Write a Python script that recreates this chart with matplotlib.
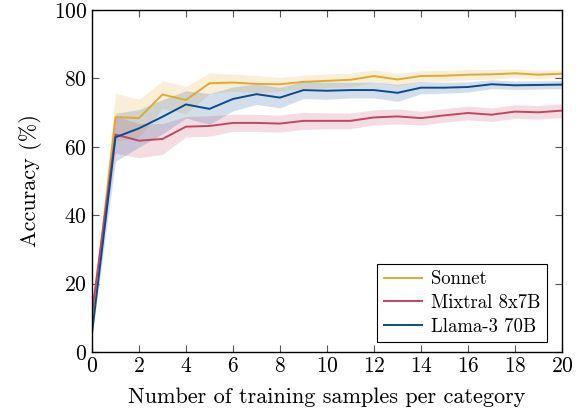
import numpy as np
import matplotlib
matplotlib.use("Agg")
import matplotlib.pyplot as plt

plt.rcParams['font.family'] = 'serif'
plt.rcParams['font.serif'] = ['cmr10', 'DejaVu Serif']
plt.rcParams['mathtext.fontset'] = 'cm'
plt.rcParams['axes.formatter.use_mathtext'] = True

samples = list(range(0, 21))
sonnet = [8.0, 68.7, 68.4, 75.3, 73.7, 78.6, 78.8, 78.4, 78.3, 79.0, 79.3, 79.6, 80.7, 79.7,
          80.7, 80.8, 81.1, 81.2, 81.5, 81.1, 81.4]
sonnet_sd = [1.0, 7.0, 5.5, 4.0, 4.0, 3.0, 2.5, 2.5, 2.0, 2.0, 2.0, 2.0, 1.8, 1.8,
             1.6, 1.6, 1.5, 1.4, 1.3, 1.2, 1.2]
mixtral = [11.4, 63.6, 61.8, 62.3, 65.9, 66.1, 67.0, 67.0, 66.8, 67.6, 67.6, 67.6, 68.6, 68.9,
           68.4, 69.2, 69.9, 69.4, 70.3, 70.1, 70.6]
mixtral_sd = [1.0, 5.5, 5.0, 4.5, 3.0, 3.0, 2.5, 2.5, 2.5, 2.5, 2.3, 2.3, 2.2, 2.2,
              2.0, 2.0, 2.0, 2.0, 2.0, 2.0, 2.0]
llama = [5.5, 62.8, 65.4, 68.8, 72.4, 71.1, 74.0, 75.4, 74.4, 76.6, 76.4, 76.6, 76.6, 75.8,
         77.3, 77.3, 77.5, 78.3, 78.0, 78.1, 78.2]
llama_sd = [1.0, 7.0, 5.5, 5.0, 4.0, 4.5, 3.5, 3.0, 3.0, 2.5, 2.5, 2.3, 2.3, 2.5,
            1.8, 1.6, 1.5, 1.3, 1.2, 1.2, 1.2]

series = [
    ("Sonnet", sonnet, sonnet_sd, "#E2A92E"),
    ("Mixtral 8x7B", mixtral, mixtral_sd, "#C2465F"),
    ("Llama-3 70B", llama, llama_sd, "#0B4A92"),
]

fig = plt.figure(figsize=(5.81, 4.12), dpi=100)
ax = fig.add_axes([0.1583, 0.1456, 0.809, 0.830])

x = np.array(samples)
for name, vals, sd, col in series:
    v = np.array(vals)
    s = np.array(sd)
    ax.fill_between(x, v - s, v + s, color=col, alpha=0.18, linewidth=0)
for name, vals, sd, col in series:
    ax.plot(x, vals, color=col, lw=1.4, label=name)

ax.set_xlim(0, 20)
ax.set_ylim(0, 100)
ax.set_xticks(range(0, 21, 2))
ax.set_yticks(range(0, 101, 20))
ax.tick_params(direction='in', top=True, right=True, length=5, labelsize=15.5, color='#555555')
for sp in ax.spines.values():
    sp.set_linewidth(1.0)
ax.set_xlabel("Number of training samples per category", fontsize=16, labelpad=8)
ax.set_ylabel("Accuracy (%)", fontsize=16, labelpad=8)

leg = ax.legend(loc='lower right', bbox_to_anchor=(0.968, 0.029), fontsize=13.5, frameon=True,
                fancybox=False, edgecolor='black', framealpha=1, handlelength=2.0,
                borderaxespad=0.0, labelspacing=0.3, borderpad=0.35, handletextpad=0.5)
leg.get_frame().set_linewidth(0.8)

fig.savefig("out.png", dpi=100)
